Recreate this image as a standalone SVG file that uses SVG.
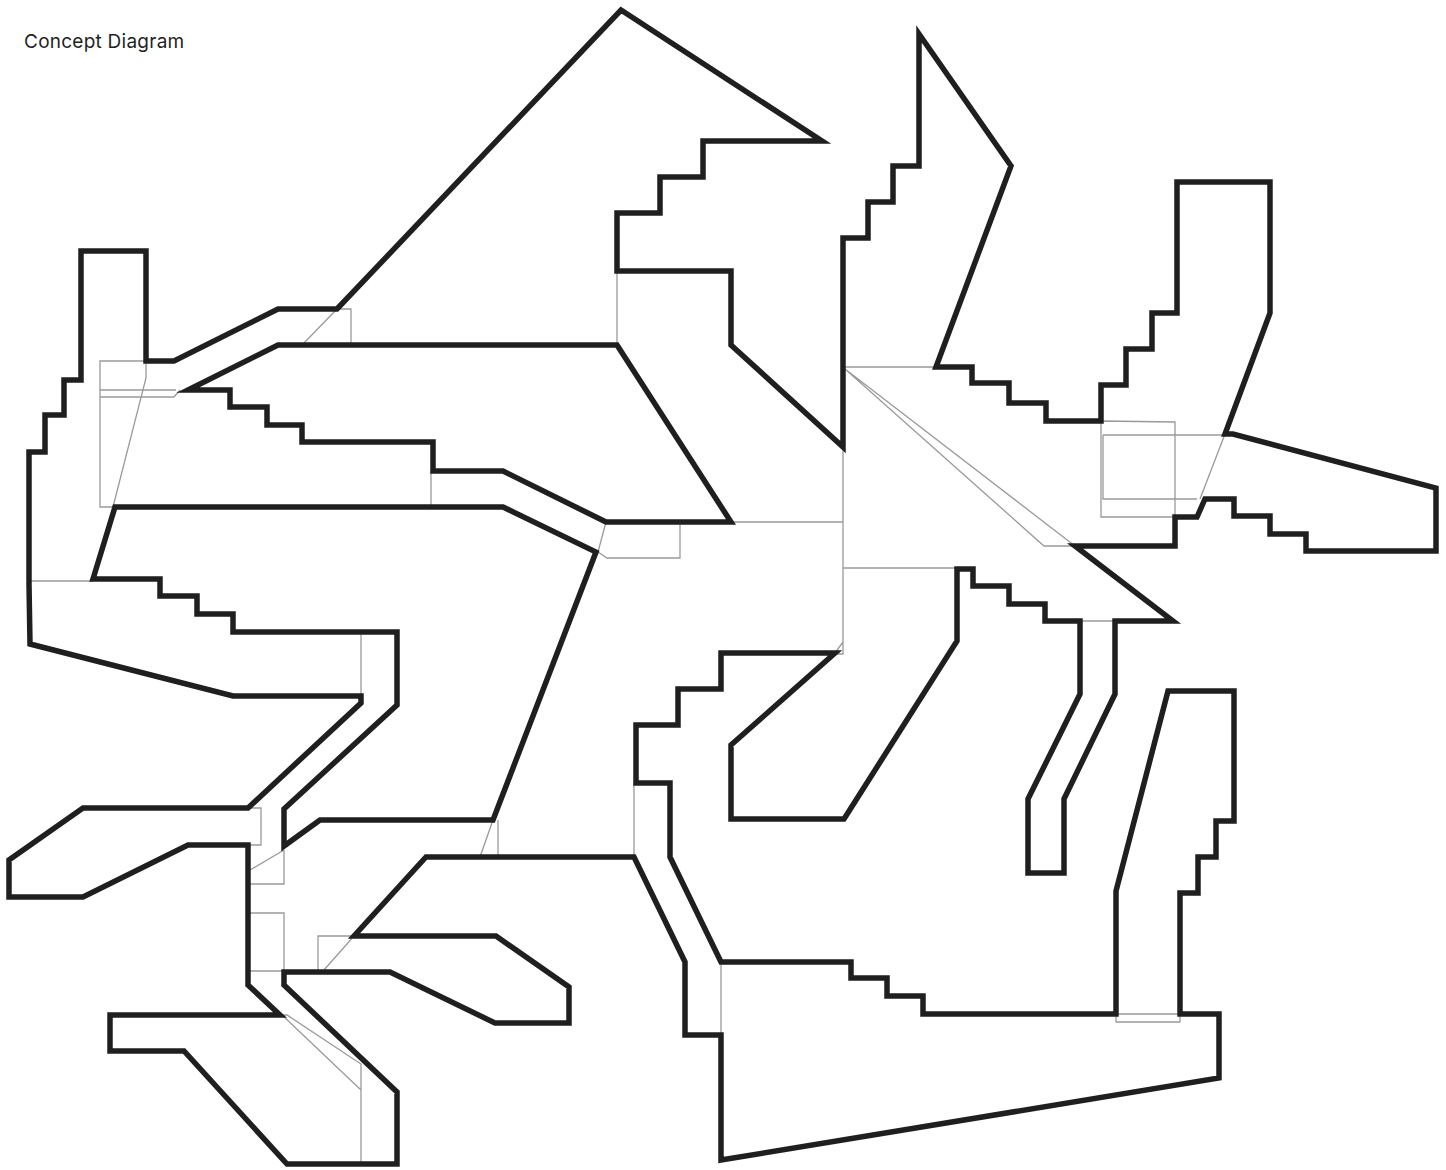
<svg xmlns="http://www.w3.org/2000/svg" width="1446" height="1170" viewBox="0 0 1446 1170">
<style>
.wall{fill:none;stroke:#1f1f1f;stroke-width:5.5;stroke-linejoin:miter;stroke-miterlimit:6}
.thin{fill:none;stroke:#9a9a9a;stroke-width:1.3}
text{font-family:"Inter","Liberation Sans",sans-serif;font-size:19px;letter-spacing:.25px;fill:#1f1f1f}
</style>
<rect width="1446" height="1170" fill="#fff"/>
<text x="24" y="47.5">Concept Diagram</text>
<g id="thin-lines">
<path class="thin" d="M337 309H351V345M337 309L304 343"/>
<path class="thin" d="M146 361H100V507H115M146 361V378L113 507M100 390H176M100 397H174L180 390"/>
<path class="thin" d="M30 581H93M431 471V507"/>
<path class="thin" d="M606 522H680V558H607L598 552M606 522L598 552"/>
<path class="thin" d="M617 271V345M731 522H843M843 447V654H835M843 642L835 653M843 568H957"/>
<path class="thin" d="M843 367H936M845 369L1075 546M845 369L1044 546H1075"/>
<path class="thin" d="M1101 421L1175 422V517H1101ZM1103 435H1225M1103 435V499H1197M1225 434L1200 499"/>
<path class="thin" d="M1080 621H1115M1116 1014V1022H1180V1014M1116 1014H1180"/>
<path class="thin" d="M721 962V1035M634 783V857M498 820V857M493 820L480 857M361 632V696"/>
<path class="thin" d="M248 808H261V845H248M284 850L250 870M284 850V884H248M248 913H284V972M248 971H284"/>
<path class="thin" d="M354 936H318V972M354 936L324 970M282 1015H287L361 1064V1164M282 1015L361 1090"/>
</g>
<g id="walls">
<path id="outer" class="wall" d="M29 584V452H45V415H64V380H81V251H146V361H174L278 309H337L621 10L822 141H703V177H660V213H617V271H731V345L843 447V238H868V202H893V166H919V34L1011 166L936 367H972V383H1009V403H1046V421H1101V385H1126V349H1152V313H1177V182H1270V313L1225 434H1233L1436 488V551H1306V534H1270V516H1234V499H1205L1197 517H1175V546H1075L1173 621H1115V694L1064 799V873H1028V799L1080 694V621H1045V604H1009V586H973V569H957V641L844 819H731V745L835 653H721V689H678V725H636V783H670V857L721 962H851V978H887V996H923V1014H1116V891L1168 691H1234V821H1216V857H1198V893H1180V1014H1219V1078L721 1160V1035H685V962L634 857H426L354 936H496L569 987V1023H495L390 972H284V985L397 1092V1164H287L184 1051H110V1015H280L248 985V845H188L83 897H9V860L83 808H248L361 703V696H233L30 644Z"/>
<path id="inner-south" class="wall" d="M93 579L115 507H503L596 552L493 820H320L284 846V809L397 705V632H233V614H197V596H160V579Z"/>
<path id="inner-north" class="wall" d="M188 390L278 345H617L731 522H606L503 471H433V442H302V425H267V407H230V390Z"/>
</g>
</svg>
